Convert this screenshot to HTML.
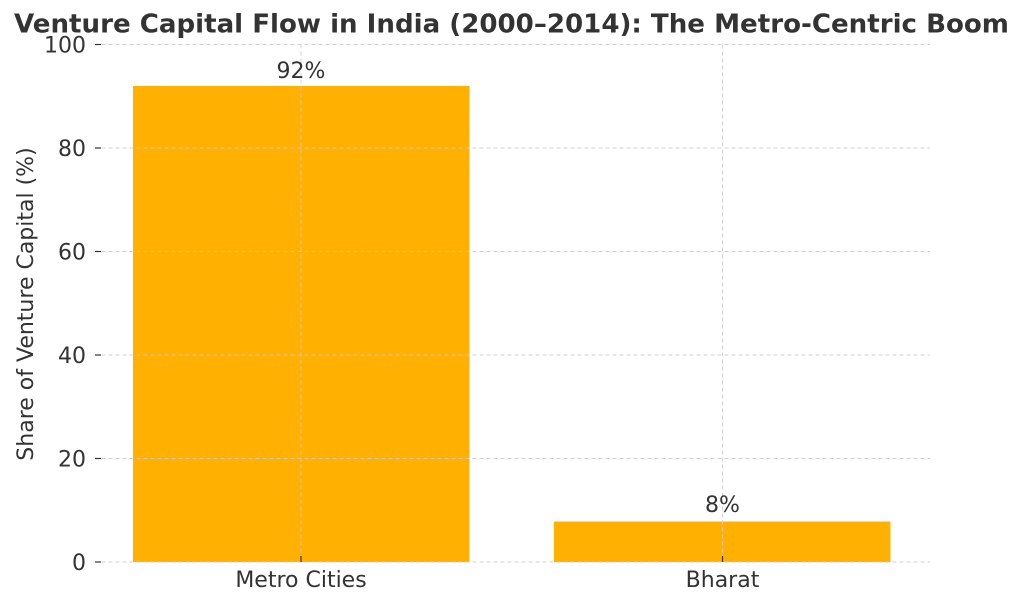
<!DOCTYPE html>
<html><head><meta charset="utf-8"><style>
html,body{margin:0;padding:0;background:#fff;}
svg{display:block;}
text{font-family:"DejaVu Sans","Liberation Sans",sans-serif;fill:#333;}
</style></head><body>
<svg width="1024" height="605" viewBox="0 0 1024 605" xmlns="http://www.w3.org/2000/svg">
<rect width="1024" height="605" fill="#fff"/>
<text x="14" y="32.5" font-size="26" font-weight="bold" textLength="995" lengthAdjust="spacingAndGlyphs">Venture Capital Flow in India (2000–2014): The Metro-Centric Boom</text>
<!-- bars -->
<rect x="133" y="86" width="336.5" height="476" fill="#FFB000"/>
<rect x="554" y="521.5" width="336.5" height="40.5" fill="#FFB000"/>
<!-- grid -->
<g stroke="#cccccc" stroke-width="1" stroke-dasharray="4,3" opacity="0.9">
<line x1="101.5" y1="44.5" x2="930" y2="44.5"/>
<line x1="101.5" y1="148" x2="930" y2="148"/>
<line x1="101.5" y1="251.5" x2="930" y2="251.5"/>
<line x1="101.5" y1="355" x2="930" y2="355"/>
<line x1="101.5" y1="458.5" x2="930" y2="458.5"/>
<line x1="101.5" y1="562" x2="930" y2="562"/>
<line x1="301" y1="44.5" x2="301" y2="562"/>
<line x1="722.5" y1="44.5" x2="722.5" y2="562"/>
</g>
<!-- ticks -->
<g stroke="#333" stroke-width="1.2">
<line x1="95" y1="44.5" x2="101" y2="44.5"/>
<line x1="95" y1="148" x2="101" y2="148"/>
<line x1="95" y1="251.5" x2="101" y2="251.5"/>
<line x1="95" y1="355" x2="101" y2="355"/>
<line x1="95" y1="458.5" x2="101" y2="458.5"/>
<line x1="95" y1="562" x2="101" y2="562"/>
<line x1="301" y1="556" x2="301" y2="562"/>
<line x1="722.5" y1="556" x2="722.5" y2="562"/>
</g>
<g font-size="22" text-anchor="end">
<text x="86" y="52.5">100</text>
<text x="86" y="156">80</text>
<text x="86" y="259.5">60</text>
<text x="86" y="363">40</text>
<text x="86" y="466.5">20</text>
<text x="86" y="570">0</text>
</g>
<g font-size="22" text-anchor="middle">
<text x="301" y="587">Metro Cities</text>
<text x="722.5" y="587">Bharat</text>
<text x="301" y="78">92%</text>
<text x="722.5" y="512">8%</text>
</g>
<text transform="translate(33,304) rotate(-90)" font-size="22" text-anchor="middle">Share of Venture Capital (%)</text>
</svg>
</body></html>
